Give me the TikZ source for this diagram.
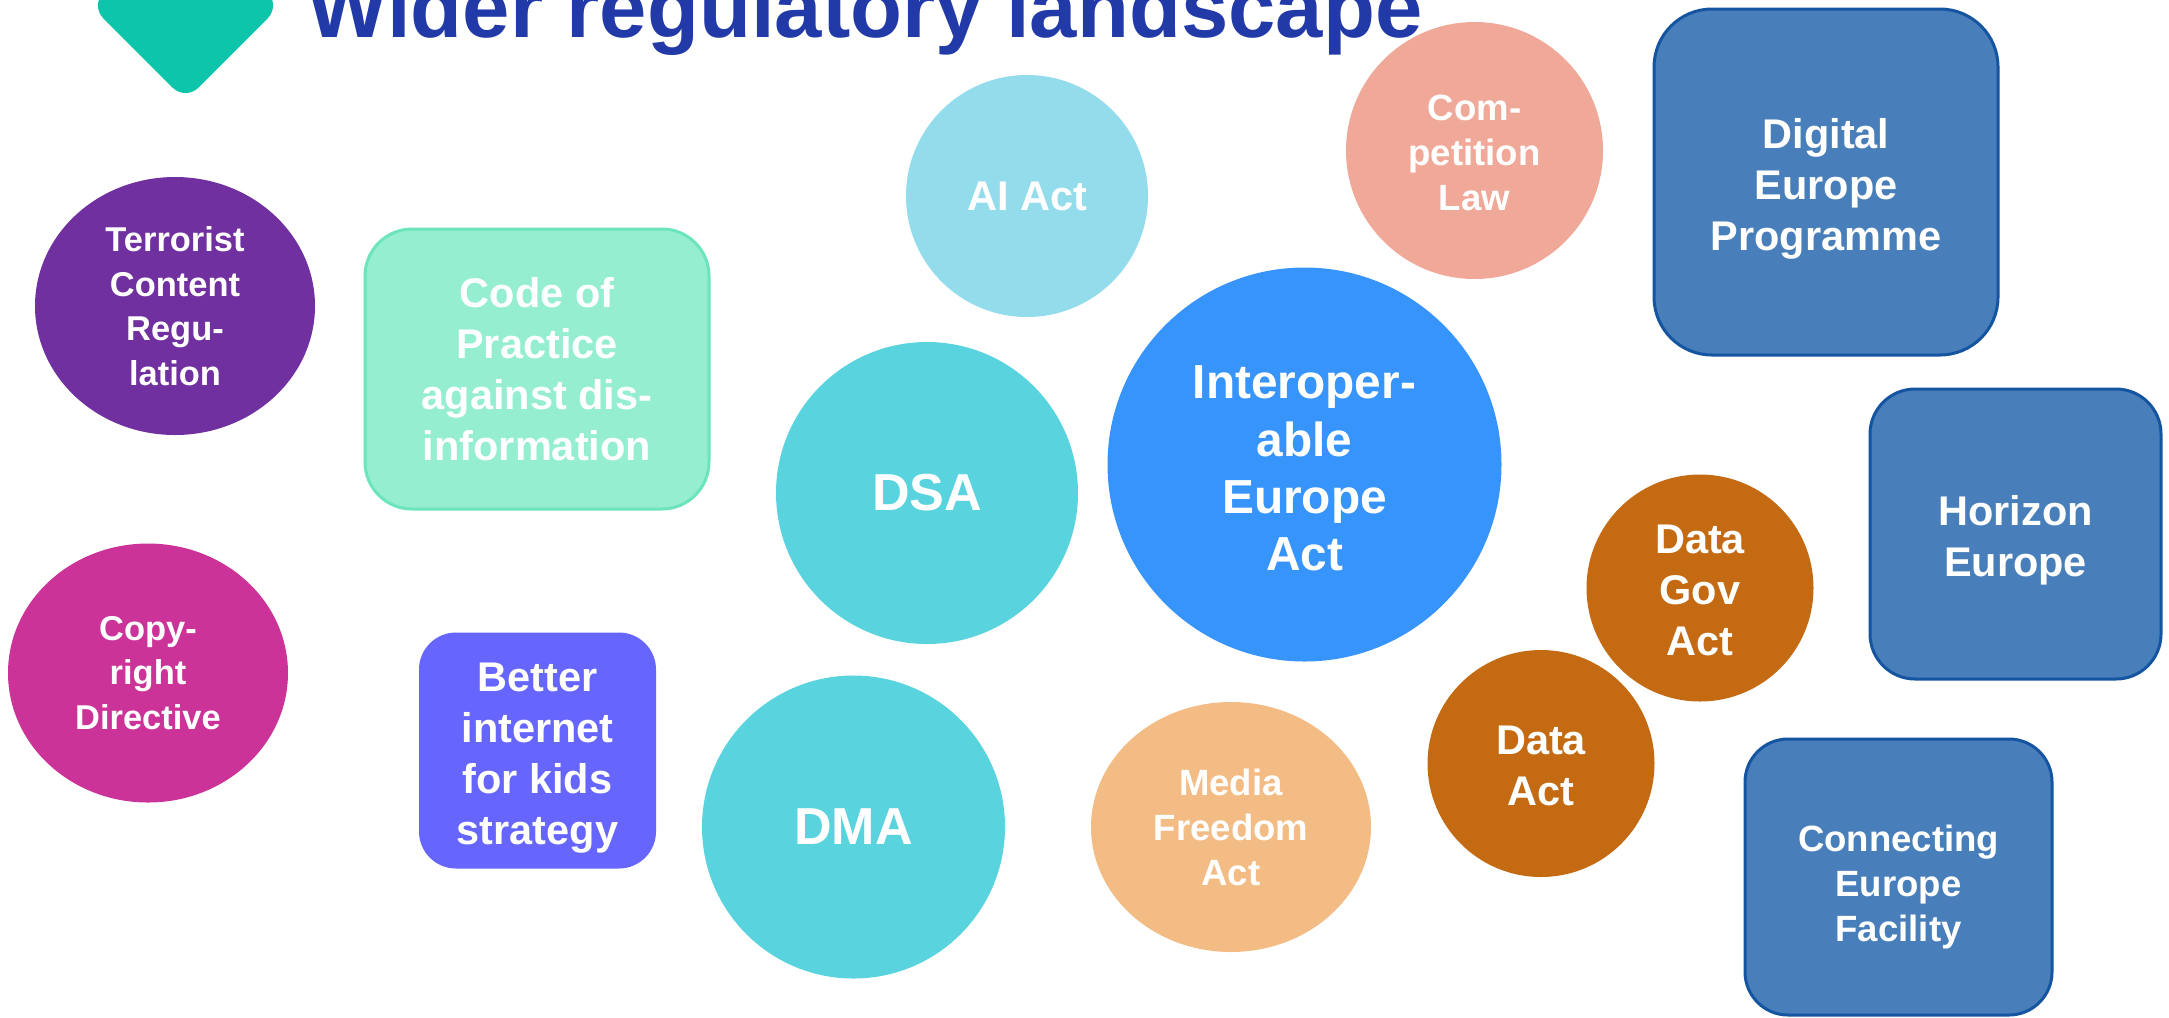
\documentclass[tikz,border=0pt]{standalone}
\usepackage{fontspec}
\setmainfont{Liberation Sans}
\usetikzlibrary{shapes.geometric}
\definecolor{titleblue}{RGB}{34,57,168}
\definecolor{iconteal}{RGB}{12,197,171}
\definecolor{cpurple}{RGB}{112,48,160}
\definecolor{cmagenta}{RGB}{204,51,153}
\definecolor{cmint}{RGB}{149,238,208}
\definecolor{cmintline}{RGB}{108,228,190}
\definecolor{cviolet}{RGB}{102,102,255}
\definecolor{cailight}{RGB}{147,220,235}
\definecolor{csalmon}{RGB}{240,168,152}
\definecolor{cturq}{RGB}{89,211,221}
\definecolor{cbright}{RGB}{55,148,250}
\definecolor{cpeach}{RGB}{244,188,133}
\definecolor{cochre}{RGB}{196,106,18}
\definecolor{cboxblue}{RGB}{72,127,186}
\definecolor{cboxline}{RGB}{20,84,160}
\newcommand\myfs[2]{\fontsize{#1}{#2}\selectfont\bfseries}
\begin{document}
\begin{tikzpicture}[x=0.1mm,y=-0.1mm,
  lbl/.style={text=white, align=center, inner sep=0pt},
  circ/.style={lbl, circle, minimum size=#1},
  oval/.style 2 args={lbl, ellipse, minimum width=#1, minimum height=#2},
  rbox/.style={lbl, rectangle, draw=cboxline, fill=cboxblue, line width=0.3mm},
  small/.style={font=\myfs{9.8pt}{12.7pt}},
  medium/.style={font=\myfs{10.4pt}{12.8pt}},
  normal/.style={font=\myfs{11.8pt}{14.5pt}},
  large/.style={font=\myfs{13.6pt}{16.3pt}},
  huge/.style={font=\myfs{14.8pt}{17pt}}
]
\path[use as bounding box] (0,0) rectangle (2169,1017);
\clip (0,0) rectangle (2169,1017);

% icon
\fill[iconteal, rounded corners=1.8mm] (185.5,-89.5) -- (280.5,5.5) -- (185.5,100.5) -- (90.5,5.5) -- cycle;

% left column
\node[oval={28mm}{25.8mm}, fill=cpurple, small] (terr) at (175,306) {Terrorist\\Content\\Regu-\\lation};
\node[oval={28mm}{25.9mm}, fill=cmagenta, small] (copy) at (148,673) {Copy-\\right\\Directive};

\node[lbl, rectangle, minimum width=34.4mm, minimum height=28mm, rounded corners=4.7mm,
      fill=cmint, draw=cmintline, line width=0.3mm, normal] (code) at (537,369)
      {Code of\\Practice\\against dis-\\information};
\node[lbl, rectangle, minimum width=23.7mm, minimum height=23.6mm, rounded corners=3.7mm,
      fill=cviolet] (kids) at (537.5,750.5) {};
\node[lbl, normal] (kidstext) at ([yshift=-0.8mm]kids.center) {Better\\internet\\for kids\\strategy};

% centre
\node[circ=24.2mm, fill=cailight, normal] (ai) at (1027,196) {AI Act};
\node[circ=25.7mm, fill=csalmon] (comp) at (1474.5,150.5) {};
\node[lbl, medium] (comptext) at ([yshift=-0.25mm]comp.center) {Com-\\petition\\Law};
\node[circ=30.2mm, fill=cturq, huge] (dsa) at (927,493) {DSA};
\node[circ=39.4mm, fill=cbright] (iea) at (1304.5,464.5) {};
\node[lbl, large] (ieatext) at ([yshift=-0.4mm]iea.center) {Interoper-\\able\\Europe\\Act};
\node[circ=30.3mm, fill=cturq, huge] (dma) at (853.5,827) {DMA};
\node[oval={28mm}{25mm}, fill=cpeach, medium] (media) at (1231,827) {Media\\Freedom\\Act};
\node[circ=22.7mm, fill=cochre] (dga) at (1700,588) {};
\node[lbl, normal] (dgatext) at ([yshift=-0.25mm]dga.center) {Data\\Gov\\Act};
\node[circ=22.7mm, fill=cochre] (data) at (1541,763.5) {};
\node[lbl, normal] (datatext) at ([yshift=-0.25mm]data.center) {Data\\Act};

% right column
\node[rbox, minimum width=34.4mm, minimum height=34.6mm, rounded corners=5.8mm]
      (dep) at (1826,182) {};
\node[lbl, normal] (deptext) at ([yshift=-0.7mm]dep.center) {Digital\\Europe\\Programme};
\node[rbox, minimum width=29.1mm, minimum height=29mm, rounded corners=4.5mm]
      (hor) at (2015.5,534) {};
\node[lbl, normal] (hortext) at ([yshift=-0.6mm]hor.center) {Horizon\\Europe};
\node[rbox, minimum width=30.7mm, minimum height=27.6mm, rounded corners=4.3mm]
      (cef) at (1898.5,877) {};
\node[lbl, medium] (ceftext) at ([yshift=-1mm]cef.center) {Connecting\\Europe\\Facility};

% title
\node[anchor=base west, inner sep=0pt, text=titleblue, font=\myfs{24.2pt}{29pt}]
      (title) at (307,37) {Wider regulatory landscape};
\end{tikzpicture}
\end{document}
